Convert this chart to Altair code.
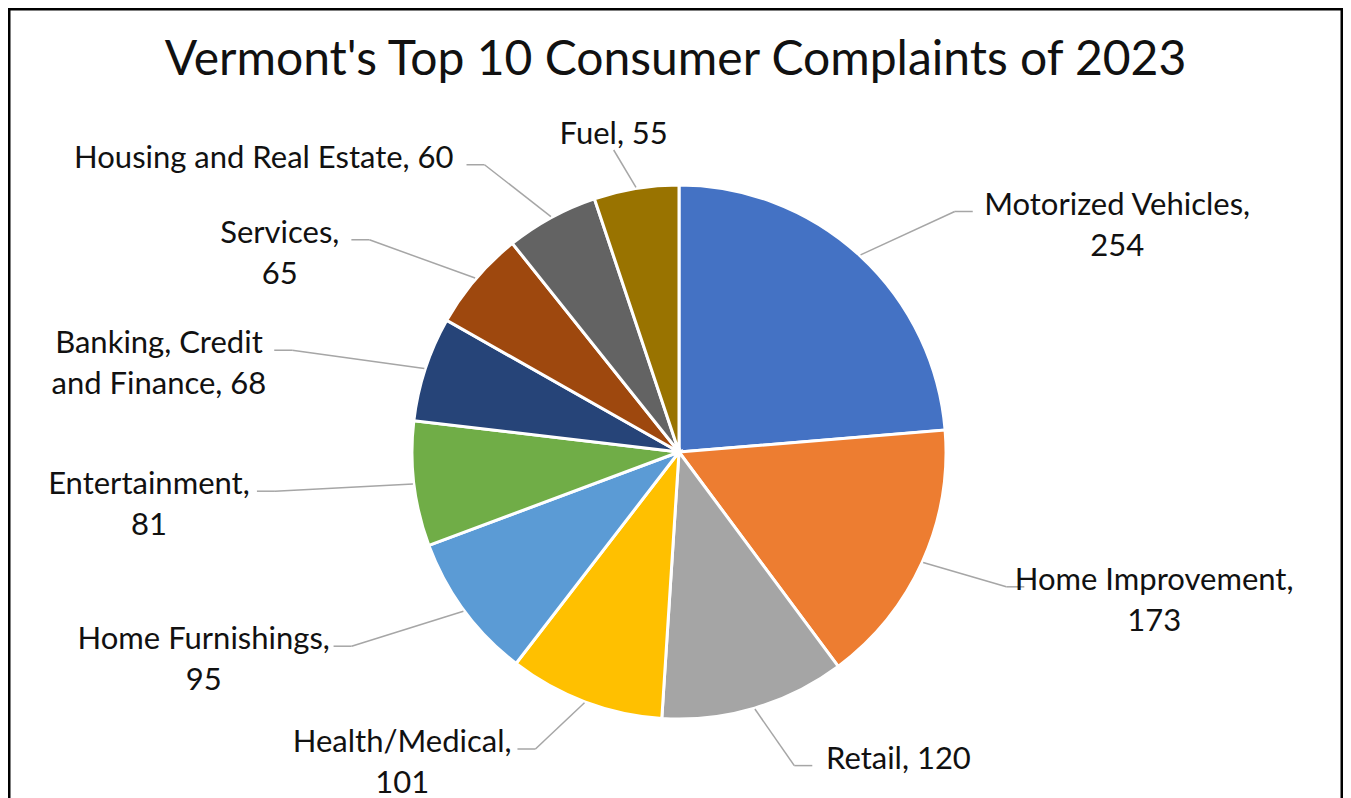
import altair as alt
import pandas as pd

# ---- data ----
categories = ["Motorized Vehicles", "Home Improvement", "Retail", "Health/Medical",
              "Home Furnishings", "Entertainment", "Banking, Credit and Finance",
              "Services", "Housing and Real Estate", "Fuel"]
complaints = [254, 173, 120, 101, 95, 81, 68, 65, 60, 55]
label_text = ["Motorized Vehicles,\n254", "Home Improvement,\n173", "Retail, 120",
              "Health/Medical,\n101", "Home Furnishings,\n95", "Entertainment,\n81",
              "Banking, Credit\nand Finance, 68", "Services,\n65",
              "Housing and Real Estate, 60", "Fuel, 55"]
colors = ["#4472C4", "#ED7D31", "#A5A5A5", "#FFC000", "#5B9BD5", "#70AD47",
          "#264478", "#9E480E", "#636363", "#997300"]
chart_title = "Vermont's Top 10 Consumer Complaints of 2023"

# ---- layout ----
W, H = 1335, 800          # view is the framed chart area (bottom edge runs off the page)
VIS_H = 790               # visible part of the view
CX, CY = 671, 444
R = 267
RX, RY = R + 140, R + 60
FS = 31
LH = 41
CHW = 0.47 * FS           # rough average character width
FONT = "Lato"
TOP_MIN = 142             # keep label elbows below the title
EDGE_L, EDGE_R = 20, 65

df = pd.DataFrame({
    "category": categories,
    "value": complaints,
    "label": label_text,
    "order": list(range(len(categories))),
    "nchars": [max(len(s) for s in t.split("\n")) for t in label_text],
    "nlines": [len(t.split("\n")) for t in label_text],
})

base = (
    alt.Chart(df)
    .transform_window(cum="sum(value)", sort=[alt.SortField("order")], frame=[None, 0])
    .transform_joinaggregate(total="sum(value)")
    .transform_calculate(start="(datum.cum - datum.value) / datum.total * 2 * PI")
    .transform_calculate(end="datum.cum / datum.total * 2 * PI")
    .transform_calculate(mid="(datum.start + datum.end) / 2")
    .transform_calculate(s="sin(datum.mid)")
    .transform_calculate(c="cos(datum.mid)")
    .transform_calculate(side="datum.s > 0.2 ? 1 : (datum.s < -0.2 ? -1 : 0)")
    .transform_calculate(halfw=f"datum.nchars * {CHW} / 2")
    .transform_calculate(px=f"{CX} + {R + 1} * datum.s")
    .transform_calculate(py=f"{CY} - {R + 1} * datum.c")
    .transform_calculate(ex0=f"{CX} + {RX} * datum.s")
    .transform_calculate(
        ey=f"clamp({CY} - {RY} * datum.c, {TOP_MIN}, {VIS_H - 8} - (datum.nlines - 1) * {LH})"
    )
    .transform_calculate(
        tx=f"datum.side == 0 ? datum.ex0 : clamp(datum.ex0 + datum.side * (24 + datum.halfw), "
           f"{EDGE_L} + datum.halfw, {W - EDGE_R} - datum.halfw)"
    )
    .transform_calculate(hx="datum.side == 0 ? datum.tx : datum.tx - datum.side * (6 + datum.halfw)")
    .transform_calculate(ex="datum.side == 0 ? datum.ex0 : datum.hx - datum.side * 18")
    .transform_calculate(
        ty=f"datum.side == 0 ? datum.ey - 6 : datum.ey - 8 + 0.36 * {FS}"
    )
)

slices = base.mark_arc(outerRadius=R, stroke="white", strokeWidth=3).encode(
    theta=alt.Theta("start:Q", scale=None, stack=None),
    theta2="end:Q",
    color=alt.Color("category:N", scale=alt.Scale(domain=categories, range=colors), legend=None),
    x=alt.value(CX),
    y=alt.value(CY),
    order=alt.Order("order:Q"),
)

leader1 = base.mark_rule(color="#a6a6a6", strokeWidth=1.5).encode(
    x=alt.X("px:Q", scale=None, axis=None),
    y=alt.Y("py:Q", scale=None, axis=None),
    x2="ex:Q",
    y2="ey:Q",
)

leader2 = base.mark_rule(color="#a6a6a6", strokeWidth=1.5).encode(
    x=alt.X("ex:Q", scale=None, axis=None),
    y=alt.Y("ey:Q", scale=None, axis=None),
    x2="hx:Q",
    y2="ey:Q",
)

labels = base.mark_text(
    font=FONT, fontSize=FS, lineBreak="\n", lineHeight=LH,
    align="center", baseline="alphabetic", color="#111111",
).encode(
    x=alt.X("tx:Q", scale=None, axis=None),
    y=alt.Y("ty:Q", scale=None, axis=None),
    text="label:N",
)

chart = (
    alt.layer(slices, leader1, leader2, labels)
    .properties(
        width=W,
        height=H,
        padding=0,
        background="white",
        title=alt.TitleParams(
            text=chart_title, font=FONT, fontSize=48, fontWeight="normal",
            color="#111111", anchor="middle", offset=-77,
        ),
    )
    .configure_view(stroke="black", strokeWidth=5)
)

chart.save("out.html", embed_options={"renderer": "svg", "actions": False})
